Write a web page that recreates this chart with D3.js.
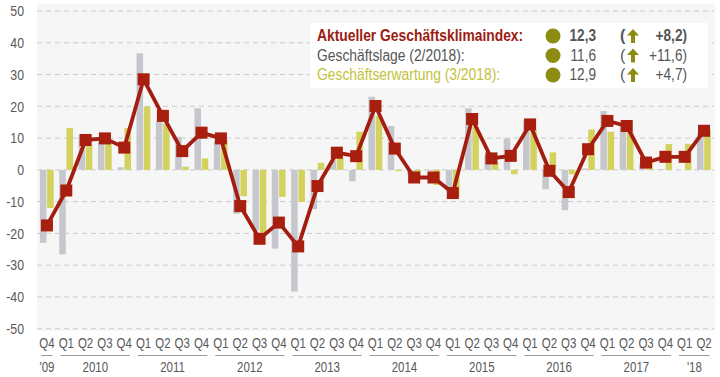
<!DOCTYPE html>
<html lang="de">
<head>
  <meta charset="UTF-8">
  <title>Geschäftsklimaindex</title>
  <script src="https://d3js.org/d3.v7.min.js"></script>
  <style>
    * { margin: 0; padding: 0; box-sizing: border-box; }
    body { background: #fff; font-family: "Liberation Sans Narrow", "Arial Narrow", "Liberation Sans", Arial, sans-serif; }
    .tick-label { fill: #595959; font-size: 15px; }
    .q-label { fill: #595959; font-size: 14px; text-anchor: middle; }
  </style>
</head>
<body>
  <div id="chart"></div>
  <script>
    // quarters Q4 '09 .. Q2 '18
    const quarters = ["Q4",
      "Q1","Q2","Q3","Q4", "Q1","Q2","Q3","Q4", "Q1","Q2","Q3","Q4", "Q1","Q2","Q3","Q4",
      "Q1","Q2","Q3","Q4", "Q1","Q2","Q3","Q4", "Q1","Q2","Q3","Q4", "Q1","Q2","Q3","Q4",
      "Q1","Q2"];
    const years = ["'09","2010","2011","2012","2013","2014","2015","2016","2017","'18"];
    const yearCounts = [1,4,4,4,4,4,4,4,4,2];

    // Geschäftsklimaindex (red line)
    const klima = [-17.5, -6.5, 9.4, 9.9, 7.0, 28.5, 17.0, 5.9, 11.7, 9.9, -11.4, -21.7,
      -16.6, -24.1, -5.1, 5.4, 4.3, 20.1, 6.7, -2.4, -2.4, -7.3, 16.0, 3.6,
      4.4, 14.3, -0.3, -7.0, 6.5, 15.4, 13.8, 2.3, 4.1, 4.1, 12.3];
    // Geschäftslage (grey bars)
    const lage = [-23, -26.6, 11, 9.5, 0.8, 36.7, 15.4, 10.4, 19.4, 9, -13.8, -19,
      -24.8, -38.3, -12.4, 3, -3.6, 23, 13.8, -1.5, -0.3, -6, 19.4, 4.5,
      9.9, 15.5, -6.1, -12.7, 0.4, 18.5, 14, 2, 0.2, 0, 11.6];
    // Geschäftserwartung (yellow bars)
    const erw = [-12, 13.2, 7.8, 9.0, 13.2, 19.9, 14.5, 1, 3.6, 9.4, -8.3, -19.8,
      -8.5, -10.1, 2.2, 3.8, 12, 17, -0.4, -1.8, -4.8, -8.5, 13.6, 2.5,
      -1.4, 12.5, 5.5, -1.4, 12.7, 12, 12, 2.5, 8.1, 8.2, 12.9];

    const yTicks = [50, 40, 30, 20, 10, 0, -10, -20, -30, -40, -50];

    const legendRows = [
      {label: "Aktueller Geschäftsklimaindex:", value: "12,3", delta: "+8,2)", color: "#9b1b12", bold: true},
      {label: "Geschäftslage (2/2018):", value: "11,6", delta: "+11,6)", color: "#555555", bold: false},
      {label: "Geschäftserwartung (3/2018):", value: "12,9", delta: "+4,7)", color: "#c3c23a", bold: false}
    ];

    const W = 720, H = 377;
    const svg = d3.select("#chart").append("svg")
      .attr("width", W).attr("height", H);

    // no narrow font installed -> squeeze glyphs
    function narrow(sel, f = 0.82) {
      sel.each(function() {
        const len = this.getComputedTextLength();
        d3.select(this).attr("textLength", len * f).attr("lengthAdjust", "spacingAndGlyphs");
      });
    }

    const idx = d3.range(quarters.length);
    const x = d3.scaleBand().domain(idx).range([37.3, 713.7]).padding(0);
    const x1 = d3.scaleBand().domain(["lage", "erw"]).range([2.6, 16.4]).paddingInner(0.1);
    const y = d3.scaleLinear().domain([-50, 50]).range([328.7, 11]);

    // plot background
    svg.append("rect")
      .attr("x", 37).attr("y", 4)
      .attr("width", 678).attr("height", 327)
      .attr("fill", "#f6f6f6");

    // grid
    svg.append("g")
      .selectAll("line")
      .data(yTicks)
      .join("line")
      .attr("x1", 37).attr("x2", 714)
      .attr("y1", d => y(d)).attr("y2", d => y(d))
      .attr("stroke", "#cbcbcb")
      .attr("stroke-width", 1)
      .attr("stroke-dasharray", "5,4");

    // y labels
    svg.append("g")
      .selectAll("text")
      .data(yTicks)
      .join("text")
      .attr("class", "tick-label")
      .attr("x", 24)
      .attr("y", d => y(d))
      .attr("dy", "0.35em")
      .attr("text-anchor", "end")
      .text(d => d)
      .call(narrow);

    // bars
    svg.append("g").selectAll("rect")
      .data(lage)
      .join("rect")
      .attr("x", (d, i) => x(i) + x1("lage"))
      .attr("width", x1.bandwidth())
      .attr("y", d => y(Math.max(0, d)))
      .attr("height", d => Math.abs(y(d) - y(0)))
      .attr("fill", "#c6c7cc");

    svg.append("g").selectAll("rect")
      .data(erw)
      .join("rect")
      .attr("x", (d, i) => x(i) + x1("erw"))
      .attr("width", x1.bandwidth())
      .attr("y", d => y(Math.max(0, d)))
      .attr("height", d => Math.abs(y(d) - y(0)))
      .attr("fill", "#d4d25e");

    // line + markers
    const cx = i => x(i) + x.bandwidth() / 2;
    svg.append("path")
      .datum(klima)
      .attr("fill", "none")
      .attr("stroke", "#a31d10")
      .attr("stroke-width", 3.8)
      .attr("stroke-linejoin", "round")
      .attr("d", d3.line().x((d, i) => cx(i)).y(d => y(d)));

    const ms = 12;
    svg.append("g").selectAll("rect")
      .data(klima)
      .join("rect")
      .attr("x", (d, i) => cx(i) - ms / 2)
      .attr("y", d => y(d) - ms / 2)
      .attr("width", ms).attr("height", ms)
      .attr("fill", "#a81e0f");

    // x labels
    svg.append("g").selectAll("text")
      .data(quarters)
      .join("text")
      .attr("class", "q-label")
      .attr("x", (d, i) => cx(i))
      .attr("y", 348)
      .text(d => d)
      .call(narrow);

    let start = 0;
    const yearGroups = years.map((yr, k) => {
      const g = {yr, a: start, b: start + yearCounts[k] - 1};
      start += yearCounts[k];
      return g;
    });
    const yg = svg.append("g");
    yg.selectAll("line")
      .data(yearGroups)
      .join("line")
      .attr("x1", d => x(d.a) + 4)
      .attr("x2", d => x(d.b) + x.bandwidth() - 4)
      .attr("y1", 355.5).attr("y2", 355.5)
      .attr("stroke", "#9a9a9a").attr("stroke-width", 1);
    yg.selectAll("text")
      .data(yearGroups)
      .join("text")
      .attr("class", "q-label")
      .attr("x", d => (cx(d.a) + cx(d.b)) / 2)
      .attr("y", 372)
      .text(d => d.yr)
      .call(narrow);

    // legend box
    const lg = svg.append("g");
    lg.append("rect")
      .attr("x", 310).attr("y", 23)
      .attr("width", 398).attr("height", 65)
      .attr("fill", "#ffffff");

    const rowY = [41, 60.5, 80];
    legendRows.forEach((r, k) => {
      const by = rowY[k];
      const w = r.bold ? "bold" : "normal";
      lg.append("text")
        .attr("x", 317).attr("y", by)
        .attr("fill", r.color)
        .style("font-size", "16px")
        .style("font-weight", w)
        .text(r.label)
        .call(narrow, 0.865);
      lg.append("circle")
        .attr("cx", 553).attr("cy", by - 5)
        .attr("r", 7.5)
        .attr("fill", "#8c8c12");
      lg.append("text")
        .attr("x", 596).attr("y", by)
        .attr("text-anchor", "end")
        .attr("fill", "#555")
        .style("font-size", "16px")
        .style("font-weight", w)
        .text(r.value)
        .call(narrow, 0.85);
      lg.append("text")
        .attr("x", 620).attr("y", by)
        .attr("fill", "#555")
        .style("font-size", "16px")
        .style("font-weight", w)
        .text("(");
      lg.append("path")
        .attr("transform", `translate(633,${by - 5})`)
        .attr("d", "M0,-7 L6,-0.5 L2,-0.5 L2,7 L-2,7 L-2,-0.5 L-6,-0.5 Z")
        .attr("fill", "#8c8c12");
      lg.append("text")
        .attr("x", 687).attr("y", by)
        .attr("text-anchor", "end")
        .attr("fill", "#555")
        .style("font-size", "16px")
        .style("font-weight", w)
        .text(r.delta)
        .call(narrow, 0.85);
    });
  </script>
</body>
</html>
